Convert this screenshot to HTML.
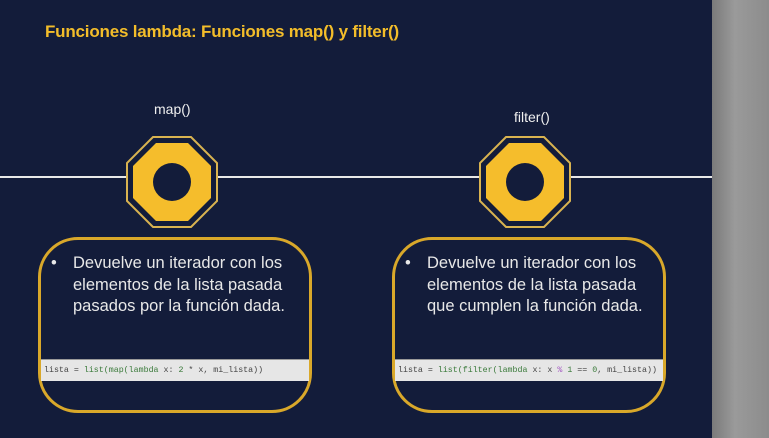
<!DOCTYPE html>
<html><head><meta charset="utf-8"><style>
body{margin:0;width:769px;height:438px;overflow:hidden;background:#131c3a;position:relative;font-family:"Liberation Sans",sans-serif}
.gray{position:absolute;left:712px;top:0;width:57px;height:438px;background:linear-gradient(90deg,#7a7a7a,#9a9a9a 40%,#8c8c8c)}
.title{position:absolute;left:45px;top:22px;color:#f3bd2a;font-weight:bold;font-size:17px;letter-spacing:-0.2px}
.line{position:absolute;left:0;top:176px;width:712px;height:2px;background:#e8e8e8}
.lbl{position:absolute;color:#f0f0f0;font-size:14px}
.box{position:absolute;top:237px;width:268px;height:170px;border:3px solid #d9a82a;border-radius:40px;box-sizing:content-box}
.txt{position:absolute;left:32px;top:13px;color:#e8e8e8;font-size:16.5px;line-height:21.5px;width:228px}
.txt:before{content:"•";position:absolute;left:-22px}
.code{position:absolute;left:0;top:119px;width:268px;height:22px;background:#e6e6e6;font-family:"Liberation Mono",monospace;font-size:8.3px;line-height:22px;color:#444;padding-left:3px;box-sizing:border-box;white-space:nowrap;overflow:hidden;border-top:1px solid #999}
.g{color:#3a7a3a}.p{color:#a050c0}
</style></head><body>
<div class="gray"></div>
<div class="title">Funciones lambda: Funciones map() y filter()</div>
<div class="line"></div>
<div class="lbl" style="left:154px;top:101px">map()</div>
<div class="lbl" style="left:514px;top:109px">filter()</div>
<svg style="position:absolute;left:0;top:0" width="712" height="438">
<g transform="translate(172,182)">
<polygon points="-19,-45 19,-45 45,-19 45,19 19,45 -19,45 -45,19 -45,-19" fill="#131c3a" stroke="#d9b350" stroke-width="2"/>
<polygon points="-16,-39 16,-39 39,-16 39,16 16,39 -16,39 -39,16 -39,-16" fill="#f5bd2c"/>
<circle r="19" fill="#131c3a"/></g>
<g transform="translate(525,182)">
<polygon points="-19,-45 19,-45 45,-19 45,19 19,45 -19,45 -45,19 -45,-19" fill="#131c3a" stroke="#d9b350" stroke-width="2"/>
<polygon points="-16,-39 16,-39 39,-16 39,16 16,39 -16,39 -39,16 -39,-16" fill="#f5bd2c"/>
<circle r="19" fill="#131c3a"/></g>
</svg>
<div class="box" style="left:38px">
<div class="txt">Devuelve un iterador con los elementos de la lista pasada pasados por la función dada.</div>
<div class="code">lista = <span class="g">list(map(lambda</span> x: <span class="g">2</span> * x, mi_lista))</div>
</div>
<div class="box" style="left:392px">
<div class="txt">Devuelve un iterador con los elementos de la lista pasada que cumplen la función dada.</div>
<div class="code">lista = <span class="g">list(filter(lambda</span> x: x <span class="p">%</span> <span class="g">1</span> == <span class="g">0</span>, mi_lista))</div>
</div>
</body></html>
